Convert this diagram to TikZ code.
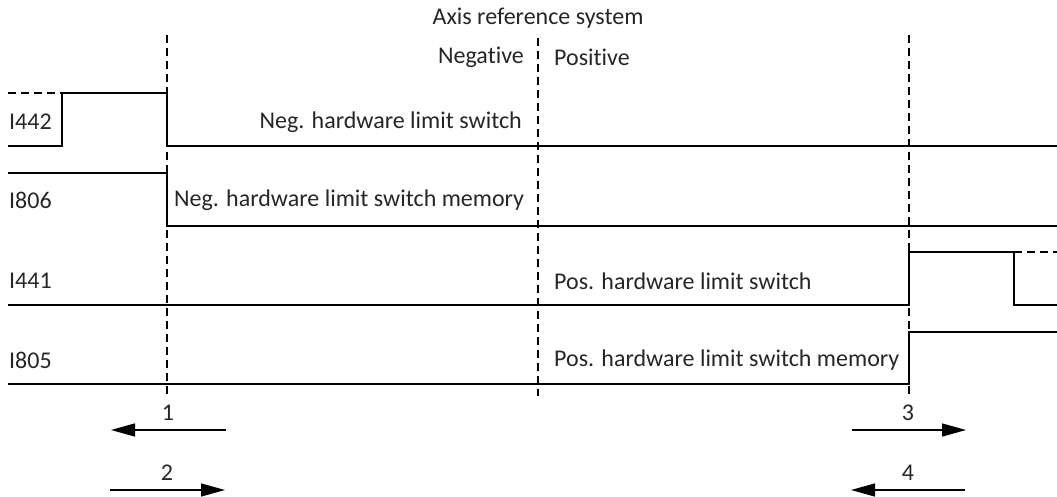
\documentclass[tikz,border=0pt]{standalone}
\usepackage{fontspec}
\setmainfont{Carlito}[Ligatures={NoCommon}]
\usetikzlibrary{arrows.meta}
\begin{document}
\begin{tikzpicture}[x=1pt,y=-1pt,
  sig/.style={line width=2.4pt},
  guide/.style={line width=1.2pt,dash pattern=on 8pt off 5pt},
  lbl/.style={font=\fontsize{24}{26}\selectfont,inner sep=0pt,text=black!85},
  dirarrow/.style={line width=1.4pt,-{Triangle[length=24pt,width=13pt]}}]
\useasboundingbox (0,0) rectangle (1057,497);
% guides
\coordinate (g1t) at (167,35); \coordinate (g1b) at (167,396);
\coordinate (g2t) at (538,38); \coordinate (g2b) at (538,396);
\coordinate (g3t) at (909,35); \coordinate (g3b) at (909,396);
\draw[guide] (g1t) -- (g1b);
\draw[guide] (g2t) -- (g2b);
\draw[guide] (g3t) -- (g3b);
% texts
\node[lbl] (title) at (538,18) {Axis reference system};
\node[lbl,anchor=east] (neg) at (524,57) {Negative};
\node[lbl,anchor=west] (pos) at (554,57) {Positive};
\node[lbl,anchor=west] (n442) at (9,122) {I442};
\node[lbl,anchor=west] (n806) at (9,200) {I806};
\node[lbl,anchor=west] (n441) at (9,281) {I441};
\node[lbl,anchor=west] (n805) at (9,360) {I805};
\node[lbl,anchor=east] (t442) at (522,122) {Neg. hardware limit switch};
\node[lbl,anchor=west] (t806) at (174,200) {Neg. hardware limit switch memory};
\node[lbl,anchor=west] (t441) at (554,281) {Pos. hardware limit switch};
\node[lbl,anchor=west] (t805) at (554,360) {Pos. hardware limit switch memory};
% I442
\coordinate (d1a) at (8,93); \coordinate (d1b) at (62,93);
\draw[guide] (d1a) -- (d1b);
\draw[sig] (8,146) -- (62,146) -- (62,93) -- (167,93) -- (167,146) -- (1057,146);
% I806
\draw[sig] (8,173) -- (167,173) -- (167,226) -- (1057,226);
% I441
\draw[sig] (8,305) -- (909,305) -- (909,252) -- (1014,252) -- (1014,305) -- (1057,305);
\coordinate (d2a) at (1014,252); \coordinate (d2b) at (1057,252);
\draw[guide] (d2a) -- (d2b);
% I805
\draw[sig] (8,384) -- (909,384) -- (909,332) -- (1057,332);
% direction arrows
\coordinate (a1s) at (226,430); \coordinate (a1e) at (111,430);
\coordinate (a2s) at (110,490); \coordinate (a2e) at (225,490);
\coordinate (a3s) at (852,430); \coordinate (a3e) at (966,430);
\coordinate (a4s) at (965,490); \coordinate (a4e) at (851,490);
\draw[dirarrow] (a1s) -- (a1e);
\draw[dirarrow] (a2s) -- (a2e);
\draw[dirarrow] (a3s) -- (a3e);
\draw[dirarrow] (a4s) -- (a4e);
\node[lbl] (l1) at (168,413) {1};
\node[lbl] (l2) at (167,473) {2};
\node[lbl] (l3) at (908,413) {3};
\node[lbl] (l4) at (908,473) {4};
\end{tikzpicture}
\end{document}
